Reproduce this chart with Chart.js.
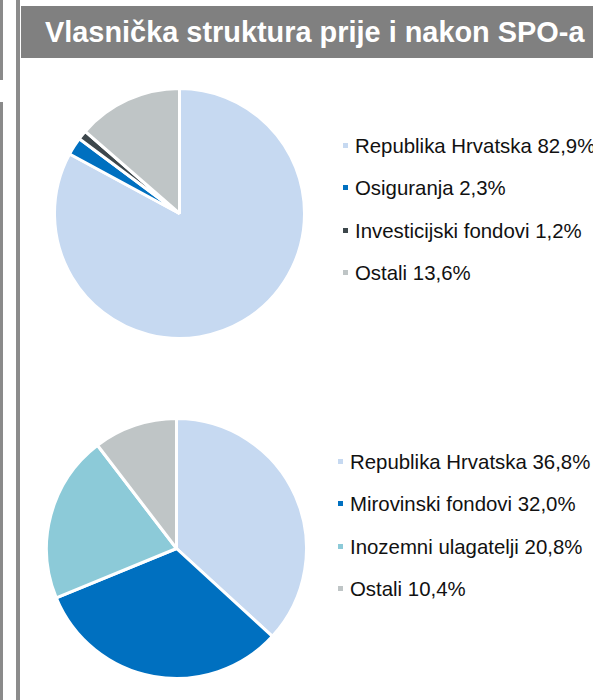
<!DOCTYPE html>
<html lang="hr">
<head>
<meta charset="UTF-8">
<title>Vlasnička struktura</title>
<script src="https://cdn.jsdelivr.net/npm/chart.js@4.4.1/dist/chart.umd.min.js"></script>
<style>
  html, body { margin: 0; padding: 0; background: #fff; overflow: hidden; }
  body { width: 593px; height: 700px; position: relative; font-family: "Liberation Sans", Arial, sans-serif; }
  .edge1 { position: absolute; left: 0; width: 3px; background: #8a8a8a; }
  .edge2 { position: absolute; left: 16px; top: 0; width: 4px; height: 700px; background: #8c8c8c; }
  .title {
    position: absolute; left: 21px; top: 6px; width: 572px; height: 52px;
    background: #808080; color: #fff; font-weight: bold; font-size: 28.9px;
    line-height: 52px; padding-left: 24px; box-sizing: border-box; white-space: nowrap; overflow: hidden;
  }
  .pie { position: absolute; }
  .legend { position: absolute; white-space: nowrap; font-size: 20.4px; color: #111; }
  .legend div { position: absolute; left: 0; height: 24px; line-height: 24px; }
  .legend span.box { display: inline-block; width: 5px; height: 5px; margin-right: 7px; vertical-align: 5px; }
</style>
</head>
<body>
<div class="edge1" style="top:0;height:80px"></div>
<div class="edge1" style="top:102px;height:598px"></div>
<div class="edge2"></div>
<div class="title">Vlasnička struktura prije i nakon SPO-a</div>

<div class="pie" style="left:53px;top:87px;width:253px;height:253px"><canvas id="pie1"></canvas></div>
<div class="legend" id="leg1" style="left:343px;top:134px"></div>

<div class="pie" style="left:45px;top:417px;width:263px;height:263px"><canvas id="pie2"></canvas></div>
<div class="legend" id="leg2" style="left:338px;top:450px"></div>

<script>
// prije SPO-a
var labels1 = ['Republika Hrvatska', 'Osiguranja', 'Investicijski fondovi', 'Ostali'];
var values1 = [82.9, 2.3, 1.2, 13.6];
var colors1 = ['#c6d9f1', '#0070c0', '#3d474c', '#bfc5c6'];

// nakon SPO-a
var labels2 = ['Republika Hrvatska', 'Mirovinski fondovi', 'Inozemni ulagatelji', 'Ostali'];
var values2 = [36.8, 32.0, 20.8, 10.4];
var colors2 = ['#c6d9f1', '#0070c0', '#8ccad8', '#bfc5c6'];

function fmt(v) {
  return v.toFixed(1).replace('.', ',') + '%';
}

function makePie(id, legId, labels, values, colors) {
  var chart = new Chart(document.getElementById(id), {
    type: 'pie',
    data: {
      labels: labels,
      datasets: [{
        data: values,
        backgroundColor: colors,
        borderColor: '#ffffff',
        borderWidth: 3
      }]
    },
    options: {
      responsive: true,
      maintainAspectRatio: false,
      animation: false,
      layout: { padding: 0 },
      plugins: {
        legend: { display: false },
        tooltip: { enabled: false }
      }
    }
  });

  // legend built from the same arrays
  var leg = document.getElementById(legId);
  labels.forEach(function (lab, i) {
    var row = document.createElement('div');
    row.style.top = (i * 42.3) + 'px';
    row.innerHTML = '<span class="box" style="background:' + colors[i] + '"></span>' + lab + ' ' + fmt(values[i]);
    leg.appendChild(row);
  });
  return chart;
}

makePie('pie1', 'leg1', labels1, values1, colors1);
makePie('pie2', 'leg2', labels2, values2, colors2);
</script>
</body>
</html>
